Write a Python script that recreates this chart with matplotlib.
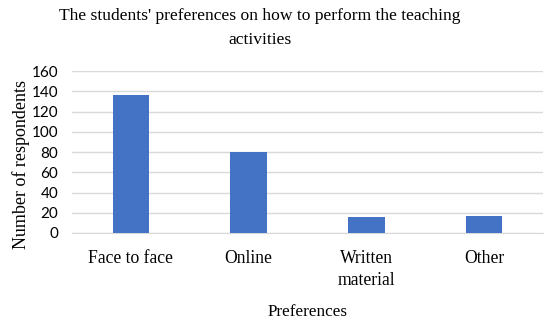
import matplotlib
matplotlib.use("Agg")
import matplotlib.pyplot as plt

categories = ["Face to face", "Online", "Written\nmaterial", "Other"]
values = [136, 80, 16, 17]
yticks = [0, 20, 40, 60, 80, 100, 120, 140, 160]

serif = "Liberation Serif"
sans = "Lato"

fig = plt.figure(figsize=(5.5, 3.22), dpi=100)
ax = fig.add_axes([0.131, 0.2764, 0.856, 0.503])

x = list(range(len(categories)))
ax.bar(x, values, width=0.31, color="#4472C4", zorder=3)
ax.set_ylim(0, 160)
ax.set_xlim(-0.5, len(categories) - 0.5)
ax.set_yticks(yticks)
ax.set_yticklabels([str(v) for v in yticks], fontfamily=sans, fontsize=11, color="#000000")
ax.set_xticks(x)
ax.set_xticklabels(categories, fontfamily=serif, fontsize=12.7, linespacing=1.4)
ax.tick_params(axis="y", length=0, pad=10)
ax.tick_params(axis="x", length=0, pad=12)
ax.grid(axis="y", color="#d9d9d9", linewidth=1, zorder=0)
for s in ["top", "right", "left"]:
    ax.spines[s].set_visible(False)
ax.spines["bottom"].set_color("#d9d9d9")
ax.spines["bottom"].set_zorder(0)

ax.set_ylabel("Number of respondents", fontfamily=serif, fontsize=13)
ax.yaxis.set_label_coords(-0.09, 0.42)
ax.set_xlabel("Preferences", fontfamily=serif, fontsize=12.3, labelpad=11)
fig.text(0.472, 0.975, "The students' preferences on how to perform the teaching\nactivities",
         ha="center", va="top", fontfamily=serif, fontsize=12.6, linespacing=1.7)

fig.savefig("out.png", dpi=100)
